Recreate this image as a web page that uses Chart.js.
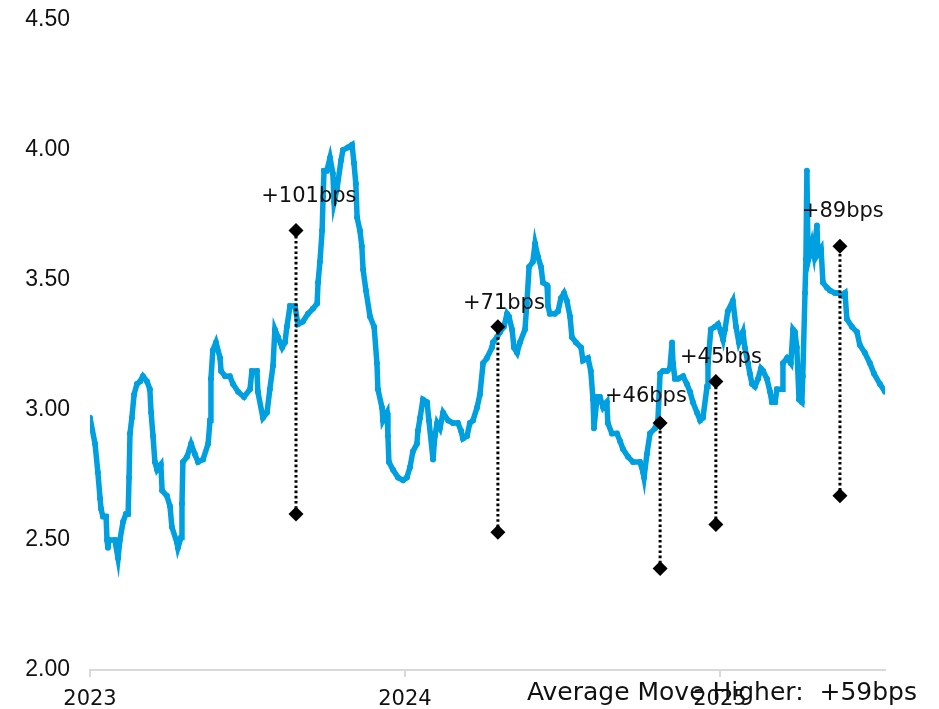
<!DOCTYPE html>
<html>
<head>
<meta charset="utf-8">
<script src="https://cdn.jsdelivr.net/npm/chart.js@4.4.1/dist/chart.umd.min.js"></script>
<style>
  html, body { margin: 0; padding: 0; background: #ffffff; }
  #wrap { width: 939px; height: 709px; }
</style>
</head>
<body>
<div id="wrap"><canvas id="c" width="939" height="709"></canvas></div>
<script>
// ---- DATA ----
const baseYear = 2023;
// time in years since start of 2023
const t = [
  0.000,0.016,0.025,0.032,0.035,0.041,0.051,0.054,0.057,0.060,0.079,0.089,0.095,0.105,0.114,0.121,0.124,0.127,0.133,0.140,
  0.149,0.159,0.168,0.181,0.190,0.194,0.200,0.206,0.213,0.225,0.229,0.244,0.254,0.260,0.276,0.279,0.289,0.292,0.295,0.308,
  0.321,0.333,0.343,0.359,0.375,0.381,0.384,0.390,0.400,0.413,0.416,0.429,0.444,0.454,0.470,0.489,0.508,0.514,0.530,0.533,
  0.549,0.562,0.571,0.581,0.587,0.597,0.610,0.619,0.625,0.635,0.651,0.660,0.676,0.692,0.708,0.721,0.724,0.730,0.737,0.740,
  0.743,0.752,0.762,0.771,0.775,0.784,0.797,0.803,0.819,0.832,0.838,0.844,0.848,0.857,0.863,0.867,0.876,0.889,0.902,0.911,
  0.914,0.927,0.930,0.943,0.946,0.949,0.962,0.978,0.994,1.006,1.016,1.025,1.038,1.041,1.048,1.057,1.070,1.076,1.089,1.095,
  1.102,1.111,1.121,1.137,1.152,1.168,1.178,1.184,1.197,1.206,1.216,1.229,1.238,1.248,1.260,1.276,1.279,1.292,1.302,1.314,
  1.324,1.330,1.340,1.346,1.356,1.365,1.381,1.387,1.394,1.406,1.413,1.422,1.432,1.438,1.451,1.454,1.460,1.476,1.486,1.495,
  1.505,1.514,1.524,1.530,1.543,1.559,1.565,1.581,1.590,1.597,1.600,1.610,1.619,1.629,1.641,1.644,1.657,1.673,1.683,1.692,
  1.708,1.724,1.746,1.756,1.759,1.768,1.778,1.794,1.803,1.810,1.819,1.832,1.841,1.848,1.851,1.857,1.867,1.883,1.895,1.905,
  1.914,1.927,1.937,1.946,1.959,1.962,1.971,1.984,1.994,2.003,2.010,2.016,2.025,2.041,2.051,2.060,2.073,2.079,2.089,2.095,
  2.102,2.111,2.121,2.130,2.137,2.149,2.159,2.165,2.175,2.181,2.197,2.200,2.213,2.225,2.232,2.238,2.244,2.251,2.260,2.263,
  2.270,2.273,2.276,2.279,2.283,2.292,2.298,2.308,2.311,2.321,2.327,2.340,2.349,2.365,2.375,2.387,2.397,2.403,2.419,2.435,
  2.444,2.460,2.476,2.489,2.508,2.524
];
const yields = [
  2.97,2.87,2.76,2.66,2.62,2.59,2.59,2.50,2.47,2.50,2.50,2.43,2.50,2.57,2.60,2.60,2.74,2.91,2.97,3.06,
  3.10,3.11,3.13,3.11,3.08,2.99,2.90,2.80,2.77,2.79,2.69,2.67,2.63,2.55,2.49,2.47,2.51,2.64,2.80,2.82,
  2.87,2.83,2.80,2.81,2.87,2.96,3.12,3.23,3.26,3.20,3.15,3.13,3.13,3.10,3.07,3.05,3.08,3.15,3.15,3.07,
  2.97,2.99,3.08,3.17,3.31,3.28,3.24,3.26,3.32,3.40,3.40,3.33,3.34,3.37,3.39,3.41,3.49,3.57,3.69,3.82,
  3.92,3.92,3.97,3.91,3.80,3.85,3.96,4.00,4.01,4.02,3.95,3.87,3.74,3.69,3.63,3.54,3.46,3.36,3.32,3.18,
  3.08,3.01,2.96,2.99,2.90,2.80,2.77,2.74,2.73,2.74,2.78,2.84,2.87,2.92,2.97,3.04,3.03,2.96,2.81,2.90,
  2.95,2.93,2.99,2.96,2.95,2.95,2.92,2.89,2.90,2.95,2.96,3.01,3.06,3.18,3.20,3.24,3.26,3.28,3.30,3.32,
  3.37,3.36,3.31,3.24,3.22,3.26,3.31,3.41,3.55,3.57,3.64,3.59,3.55,3.49,3.48,3.40,3.37,3.37,3.38,3.43,
  3.45,3.42,3.36,3.28,3.26,3.24,3.19,3.20,3.15,3.04,2.93,3.05,3.05,3.01,3.03,2.95,2.91,2.91,2.88,2.85,
  2.82,2.80,2.80,2.76,2.74,2.83,2.91,2.93,2.96,3.14,3.15,3.15,3.16,3.26,3.18,3.12,3.12,3.13,3.10,3.07,
  3.03,2.99,2.96,2.97,3.09,3.18,3.31,3.32,3.33,3.30,3.27,3.31,3.38,3.42,3.32,3.26,3.30,3.24,3.18,3.14,
  3.10,3.09,3.12,3.16,3.15,3.12,3.07,3.03,3.03,3.08,3.08,3.18,3.20,3.18,3.31,3.30,3.24,3.04,3.03,3.13,
  3.45,3.58,3.92,3.65,3.59,3.64,3.60,3.71,3.60,3.62,3.49,3.47,3.46,3.45,3.45,3.44,3.45,3.35,3.32,3.30,
  3.25,3.22,3.18,3.14,3.10,3.07
];

// move markers (years since 2023, low value, high value)
const moveT    = [0.654, 1.295, 1.810, 1.987, 2.381];
const moveLow  = [2.60, 2.53, 2.39, 2.56, 2.67];
const moveHigh = [3.69, 3.32, 2.95, 3.11, 3.63];
const moveText = ['+101bps', '+71bps', '+46bps', '+45bps', '+89bps'];
// label anchors in data units (years since 2023, value)
const moveLabelT = [0.695, 1.314, 1.765, 2.003, 2.390];
const moveLabelV = [3.82, 3.41, 3.05, 3.20, 3.765];

const xTickYears = [2023, 2024, 2025];
const xTickLabels = ['2023', '2024', '2025'];
const xMax = 2025.524;
const yMin = 2.0, yMax = 4.5, yStep = 0.5;
const footnote = 'Average Move Higher:  +59bps';

// ---- CHART ----
const BLUE = '#009FDF';
const TXT_FONT = '"DejaVu Sans", sans-serif';

const datasets = [];
moveT.forEach((tt, i) => {
  datasets.push({
    type: 'line',
    data: [{x: baseYear + tt, y: moveLow[i]}, {x: baseYear + tt, y: moveHigh[i]}],
    borderColor: '#000000',
    borderWidth: 3,
    borderDash: [2.6, 2.6],
    pointStyle: 'rectRot',
    pointRadius: 7.5,
    pointBackgroundColor: '#000000',
    pointBorderWidth: 0,
    order: 0
  });
});
datasets.push({
  type: 'line',
  data: t.map((v, i) => ({x: baseYear + v, y: yields[i]})),
  borderColor: BLUE,
  backgroundColor: BLUE,
  borderWidth: 5.5,
  pointRadius: 3,
  pointBackgroundColor: BLUE,
  pointBorderWidth: 0,
  tension: 0,
  order: 10
});

const labelPlugin = {
  id: 'labels',
  afterDatasetsDraw(chart) {
    const ctx = chart.ctx;
    const xs = chart.scales.x, ys = chart.scales.y;
    ctx.save();
    ctx.fillStyle = '#111111';
    ctx.font = '21px ' + TXT_FONT;
    ctx.textAlign = 'center';
    ctx.textBaseline = 'middle';
    moveText.forEach((s, i) => {
      ctx.fillText(s, xs.getPixelForValue(baseYear + moveLabelT[i]), ys.getPixelForValue(moveLabelV[i]));
    });
    ctx.font = '25px ' + TXT_FONT;
    ctx.textAlign = 'right';
    ctx.fillText(footnote, chart.chartArea.right + 32, chart.chartArea.bottom + 23);
    ctx.restore();
  }
};

new Chart(document.getElementById('c'), {
  type: 'line',
  data: { datasets },
  options: {
    responsive: false,
    animation: false,
    layout: { padding: { top: 20, right: 54, left: 0, bottom: 0 } },
    plugins: { legend: { display: false }, tooltip: { enabled: false } },
    scales: {
      x: {
        type: 'linear',
        min: baseYear,
        max: xMax,
        afterBuildTicks(scale) { scale.ticks = xTickYears.map(v => ({ value: v })); },
        afterFit(scale) { scale.height = 39; },
        ticks: {
          autoSkip: false,
          maxRotation: 0,
          padding: 10,
          color: '#111111',
          font: { family: TXT_FONT, size: 21 },
          callback: (v) => { const k = xTickYears.indexOf(v); return k >= 0 ? xTickLabels[k] : ''; }
        },
        grid: { display: true, drawOnChartArea: false, drawTicks: true, tickLength: 7, color: '#D9D9D9', lineWidth: 2 },
        border: { display: true, color: '#D9D9D9', width: 2 }
      },
      y: {
        min: yMin,
        max: yMax,
        afterFit(scale) { scale.width = 90; },
        ticks: {
          stepSize: yStep,
          padding: 0,
          color: '#111111',
          font: { family: '"Liberation Sans", Arial, sans-serif', size: 23 },
          callback: (v) => Number(v).toFixed(2)
        },
        grid: { display: false, drawTicks: true, tickLength: 20 },
        border: { display: false }
      }
    }
  },
  plugins: [labelPlugin]
});
</script>
</body>
</html>
